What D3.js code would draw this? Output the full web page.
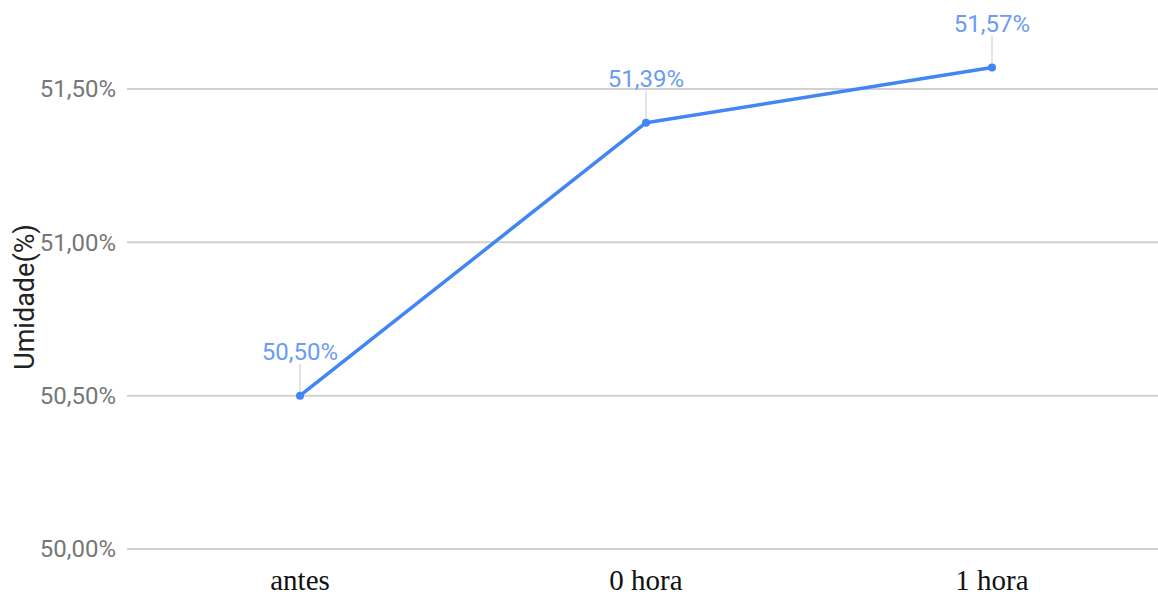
<!DOCTYPE html>
<html>
<head>
<meta charset="utf-8">
<script src="https://cdn.jsdelivr.net/npm/d3@7"></script>
<style>
  html, body { margin: 0; padding: 0; background: #fff; overflow: hidden; }
</style>
</head>
<body>
<div id="chart"></div>
<script>
// chart values
const categories = ["antes", "0 hora", "1 hora"];
const values = [50.50, 51.39, 51.57];
const pointLabels = ["50,50%", "51,39%", "51,57%"];
const yTicks = [50.0, 50.5, 51.0, 51.5];
const yTickLabels = ["50,00%", "50,50%", "51,00%", "51,50%"];
const yTitle = "Umidade(%)";

const W = 1158, H = 597;
const margin = { top: 89, right: -7, bottom: 48, left: 127 };

const svg = d3.select("#chart")
  .append("svg")
  .attr("width", W)
  .attr("height", H);

// x positions: 3 evenly spaced points
const xScale = d3.scalePoint()
  .domain(categories)
  .range([margin.left, W - margin.right])
  .padding(0.5);

const yScale = d3.scaleLinear()
  .domain([50.0, 51.5])
  .range([H - margin.bottom, margin.top]);

// gridlines
svg.append("g")
  .selectAll("line")
  .data(yTicks)
  .enter()
  .append("line")
  .attr("x1", margin.left)
  .attr("x2", W)
  .attr("y1", d => yScale(d))
  .attr("y2", d => yScale(d))
  .attr("stroke", "#d0d0d0")
  .attr("stroke-width", 2);

// y tick labels
svg.append("g")
  .selectAll("text")
  .data(yTicks)
  .enter()
  .append("text")
  .attr("x", 116)
  .attr("y", d => yScale(d))
  .attr("dy", "0.35em")
  .attr("text-anchor", "end")
  .style("font-family", "Roboto, Arial, sans-serif")
  .style("font-size", "24px")
  .attr("fill", "#777777")
  .text((d, i) => yTickLabels[i]);

// y title
svg.append("text")
  .attr("transform", "translate(34," + 297 + ") rotate(-90)")
  .attr("text-anchor", "middle")
  .style("font-family", "Roboto, Arial, sans-serif")
  .style("font-size", "27px")
  .attr("fill", "#222222")
  .text(yTitle);

// x labels (serif, pasted-looking)
svg.append("g")
  .selectAll("text")
  .data(categories)
  .enter()
  .append("text")
  .attr("x", d => xScale(d))
  .attr("y", 590)
  .attr("text-anchor", "middle")
  .style("font-family", "'Liberation Serif', 'Times New Roman', serif")
  .style("font-size", "29px")
  .attr("fill", "#111111")
  .text(d => d);

const data = categories.map((c, i) => ({ cat: c, value: values[i], label: pointLabels[i] }));

// leader lines from point to label
svg.append("g")
  .selectAll("line")
  .data(data)
  .enter()
  .append("line")
  .attr("x1", d => xScale(d.cat))
  .attr("x2", d => xScale(d.cat))
  .attr("y1", d => yScale(d.value))
  .attr("y2", d => yScale(d.value) - 32)
  .attr("stroke", "#dddddd")
  .attr("stroke-width", 1.5);

// series line
const line = d3.line()
  .x(d => xScale(d.cat))
  .y(d => yScale(d.value));

svg.append("path")
  .datum(data)
  .attr("d", line)
  .attr("fill", "none")
  .attr("stroke", "#4285f4")
  .attr("stroke-width", 3.5)
  .attr("stroke-linejoin", "round");

svg.append("g")
  .selectAll("circle")
  .data(data)
  .enter()
  .append("circle")
  .attr("cx", d => xScale(d.cat))
  .attr("cy", d => yScale(d.value))
  .attr("r", 4)
  .attr("fill", "#4285f4");

// data labels
svg.append("g")
  .selectAll("text")
  .data(data)
  .enter()
  .append("text")
  .attr("x", d => xScale(d.cat))
  .attr("y", d => yScale(d.value) - 36)
  .attr("text-anchor", "middle")
  .style("font-family", "Roboto, Arial, sans-serif")
  .style("font-size", "24px")
  .attr("fill", "#6a9cf5")
  .text(d => d.label);
</script>
</body>
</html>
